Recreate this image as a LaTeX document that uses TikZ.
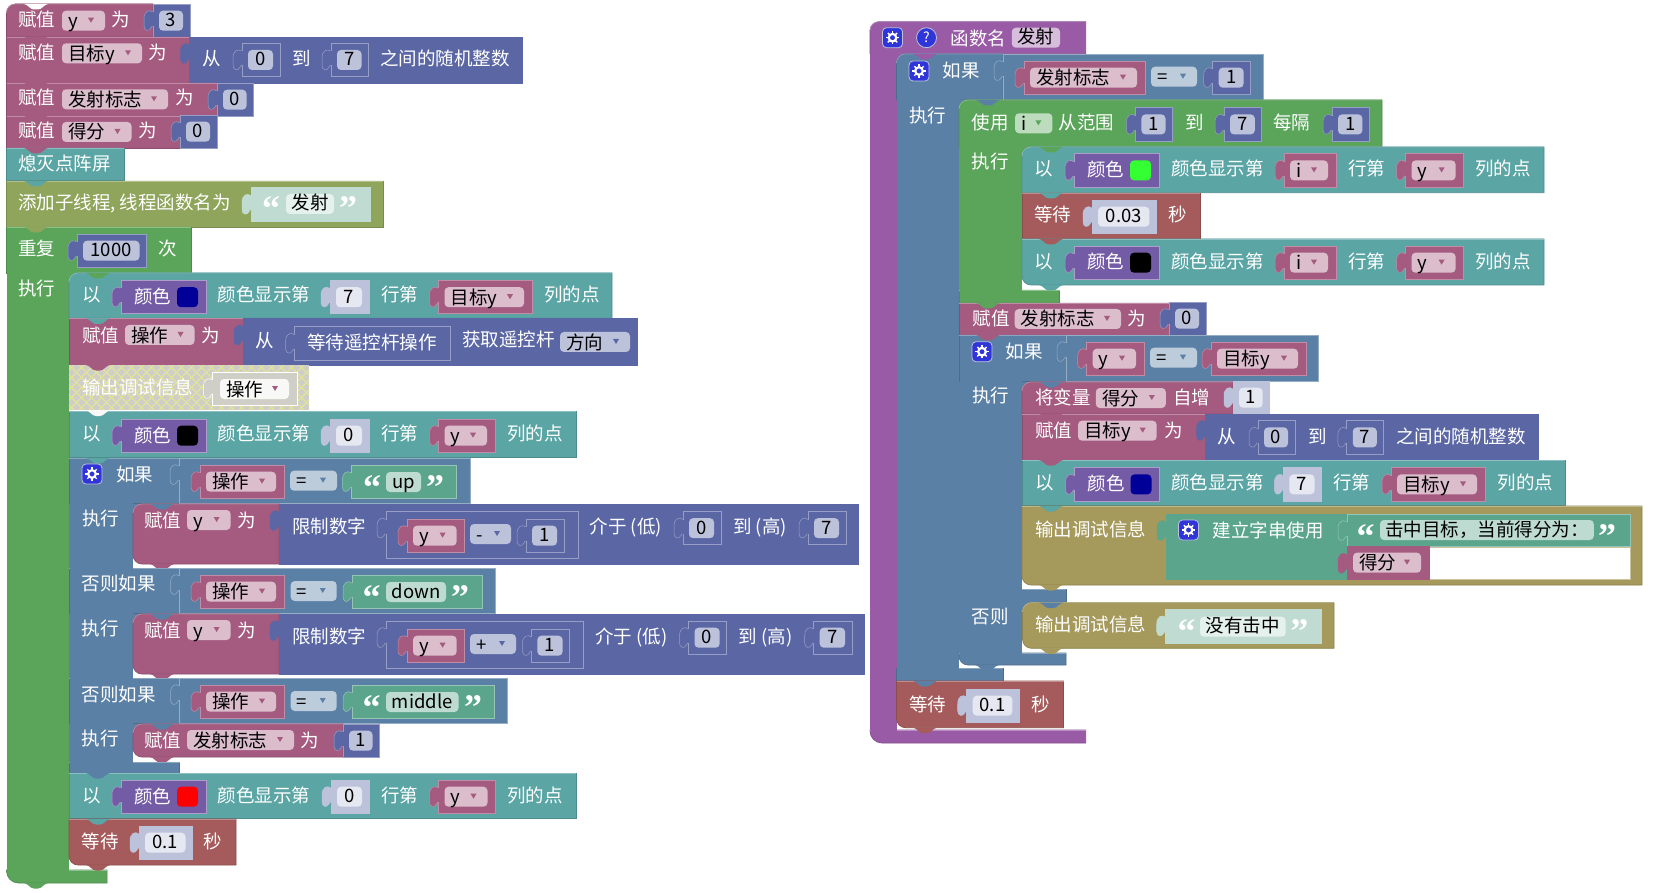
\documentclass[tikz,border=0pt]{standalone}
\usepackage{fontspec}
\setmainfont{Noto Sans CJK SC}
\newfontfamily\quotefont{Liberation Serif}
\definecolor{varc}{HTML}{A55B80}
\definecolor{varf}{HTML}{DBBDCC}
\definecolor{mathc}{HTML}{5B67A5}
\definecolor{mathf}{HTML}{BDC2DB}
\definecolor{numf}{HTML}{E5E7F1}
\definecolor{ledc}{HTML}{5BA5A5}
\definecolor{olivec}{HTML}{8FA55B}
\definecolor{loopc}{HTML}{5BA55B}
\definecolor{loopf}{HTML}{BDDBBD}
\definecolor{logicc}{HTML}{5B80A5}
\definecolor{logicf}{HTML}{BDCCDB}
\definecolor{strc}{HTML}{5BA58C}
\definecolor{strf}{HTML}{BDDBD1}
\definecolor{strs}{HTML}{C0DBD2}
\definecolor{strsf}{HTML}{E5F1ED}
\definecolor{procc}{HTML}{995BA5}
\definecolor{procf}{HTML}{D6BDDB}
\definecolor{waitc}{HTML}{A55B5B}
\definecolor{goldc}{HTML}{A5995B}
\definecolor{colc}{HTML}{745BA5}
\definecolor{offc}{HTML}{CFCFC8}
\definecolor{hatchc}{HTML}{E8E88F}
\definecolor{iconc}{HTML}{2F35D8}
\definecolor{navyc}{HTML}{000099}
\tikzset{
  lbl/.style={anchor=west,inner sep=0pt,text=white,text height=14pt,text depth=0pt,font=\fontsize{18.5}{20}\selectfont},
  ftxt/.style={lbl,text=black},
  ctxt/.style={ftxt,anchor=center},
  qmark/.style={inner sep=0pt,text=white,text height=14pt,text depth=0pt,font=\quotefont\bfseries\fontsize{36}{36}\selectfont}
}
\newcounter{nid}
% col, x1, y1, x2, y2, top left radius, bottom left radius
\newcommand{\blockrnd}[7]{
  \path[fill=#1,draw=#1!85!black,line width=.7pt] ({#4},{#3}) -- ({#2+#6},{#3}) .. controls ({#2+.45*#6},{#3}) and ({#2},{#3+.45*#6}) .. ({#2},{#3+#6})
    -- ({#2},{#5-#7}) .. controls ({#2},{#5-.45*#7}) and ({#2+.45*#7},{#5}) .. ({#2+#7},{#5}) -- ({#4},{#5}) -- cycle;
  \draw[#1!70!white,line width=.7pt] ({#4},{#3}) -- ({#2+#6},{#3}) .. controls ({#2+.45*#6},{#3}) and ({#2},{#3+.45*#6}) .. ({#2},{#3+#6});
}
\newcommand{\blockrow}[5]{\blockrnd{#1}{#2}{#3}{#4}{#5}{0}{0}}
% the arm of a C block, with a bit more at the top behind the child's corner
\newcommand{\armfill}[5]{
  \fill[#1] ({#2},{#3}) rectangle ({#4},{#5});
  \fill[#1] ({#4-1},{#3}) rectangle ({#4+10},{#3+10});
}
% hides the row edges that run across an arm
\newcommand{\seamfill}[4]{
  \foreach \y in {#4} \fill[#1] ({#2+.5},{\y-1.5}) rectangle ({#3},{\y+1.5});
}
\newcommand{\notchbump}[3]{
  \fill[#1] ({#2-12},{#3}) .. controls ({#2-8},{#3+.5}) and ({#2-6},{#3+5.5}) .. ({#2-2},{#3+5.5}) -- ({#2+2},{#3+5.5})
    .. controls ({#2+6},{#3+5.5}) and ({#2+8},{#3+.5}) .. ({#2+12},{#3}) -- cycle;
}
\newcommand{\tabshape}[4]{
  \path[fill=#1,draw=#2,line width=.5pt] ({#3},{#4-9}) .. controls ({#3-4},{#4-12}) and ({#3-9},{#4-10}) .. ({#3-9},{#4-2})
    -- ({#3-9},{#4+5}) .. controls ({#3-9},{#4+10}) and ({#3-4},{#4+11}) .. ({#3-2},{#4+7}) .. controls ({#3-1},{#4+5}) .. ({#3},{#4+5});
}
% col, border, x1, y1, x2, y2
\newcommand{\valbox}[6]{
  \tabshape{#1}{#2}{#3}{#4+17}
  \path[fill=#1,draw=#2,line width=.7pt] ({#3},{#4}) rectangle ({#5},{#6});
  \fill[#1] ({#3-1},{#4+8}) rectangle ({#3+.5},{#4+22});
}
\newcommand{\fieldbox}[5]{
  \fill[#1,rounded corners=4pt] ({#2},{#3}) rectangle ({#4},{#3+20});
  \stepcounter{nid}\node[ctxt] (fld\arabic{nid}) at ({(#2+#4)/2},{#3+9}) {#5};
}
\newcommand{\dropfield}[6]{
  \fill[#1,rounded corners=4pt] ({#3},{#4}) rectangle ({#5},{#4+20});
  \fill[#2] ({#5-17},{#4+7}) -- ({#5-11},{#4+7}) -- ({#5-14},{#4+12}) -- cycle;
  \stepcounter{nid}\node[ftxt] (drp\arabic{nid}) at ({#3+6},{#4+10}) {#6};
}
\newcommand{\textlbl}[3]{\stepcounter{nid}\node[lbl] (lbl\arabic{nid}) at ({#1},{#2}) {#3};}
\newcommand{\quoteit}[3]{\stepcounter{nid}\node[qmark] (qm\arabic{nid}) at ({#1},{#2+10}) {#3};}
% x1 x2 y text
\newcommand{\numv}[4]{\valbox{mathc}{mathf!60!mathc}{#1}{#3}{#2}{#3+33.3}\fieldbox{mathf}{#1+6}{#3+6.7}{#2-7}{#4}}
\newcommand{\shv}[4]{\valbox{mathf}{mathf}{#1}{#3}{#2}{#3+33.3}\fieldbox{numf}{#1+6}{#3+6.7}{#2-7}{#4}}
\newcommand{\redv}[4]{\valbox{varc}{varf!50!varc}{#1}{#3}{#2}{#3+33.3}\dropfield{varf}{varc}{#1+6}{#3+6.7}{#2-8}{#4}}
% x y swatch
\newcommand{\colv}[3]{
  \valbox{colc}{colc!60!white}{#1}{#2}{#1+85}{#2+33.3}
  \textlbl{#1+13}{#2+16}{颜色}
  \fill[#3,rounded corners=4pt] ({#1+56},{#2+6.7}) rectangle ({#1+77},{#2+26.7});
}
\newcommand{\gearicon}[2]{
  \path[fill=iconc,draw=mathf,line width=.8pt,rounded corners=4pt] ({#1},{#2}) rectangle ({#1+20},{#2+20});
  \draw[white,line width=2.2pt] ({#1+10},{#2+10}) circle[radius=3.8pt];
  \foreach \a in {0,45,...,315}
    \draw[white,line width=1.4pt] ({#1+10+4*cos(\a)},{#2+10+4*sin(\a)}) -- ({#1+10+6.6*cos(\a)},{#2+10+6.6*sin(\a)});
}
\begin{document}
\begin{tikzpicture}[x=1pt,y=-1pt]
\useasboundingbox[fill=white] (0,0) rectangle (1655,893);

% setup blocks
\blockrnd{varc}{6.5}{4}{153}{37}{9}{0}
\notchbump{white}{36}{4}
\textlbl{18}{20}{赋值}
\dropfield{varf}{varc}{62}{10.7}{105}{y}
\textlbl{111}{20}{为}
\numv{153}{190}{4}{3}
\blockrow{varc}{6.5}{37}{189.5}{83}
\notchbump{varc}{36}{37}
\textlbl{18}{53}{赋值}
\dropfield{varf}{varc}{62}{43.3}{142}{目标y}
\textlbl{148}{53}{为}
\valbox{mathc}{mathc}{189.5}{37}{522}{83}
\textlbl{202}{59}{从}
\numv{242}{280}{43.3}{0}
\textlbl{292}{59}{到}
\numv{331}{368.5}{43.3}{7}
\textlbl{380}{59}{之间的随机整数}
\blockrow{varc}{6.5}{83}{217}{116}
\notchbump{varc}{36}{83}
\textlbl{18}{98}{赋值}
\dropfield{varf}{varc}{62}{89.3}{168}{发射标志}
\textlbl{175}{98}{为}
\numv{217}{253.5}{83}{0}
\blockrow{varc}{6.5}{116}{180}{148}
\notchbump{varc}{36}{116}
\textlbl{18}{131}{赋值}
\dropfield{varf}{varc}{62}{122}{131.5}{得分}
\textlbl{138}{131}{为}
\numv{180}{217}{115}{0}
\blockrow{ledc}{6.5}{148}{124}{180}
\notchbump{varc}{36}{148}
\textlbl{18}{164}{熄灭点阵屏}
\blockrow{olivec}{6.5}{181}{383}{227}
\notchbump{ledc}{36}{181}
\textlbl{18}{203}{添加子线程, 线程函数名为}
\valbox{strs}{strs}{251}{187.7}{370}{221}
\quoteit{271}{204}{“}
\fieldbox{strsf}{286}{194}{334}{发射}
\quoteit{348}{204}{”}

% repeat block
\blockrow{loopc}{6.5}{227}{191}{273}
\notchbump{olivec}{36}{227}
\textlbl{18}{249}{重复}
\numv{77}{146.5}{234}{1000}
\textlbl{158}{249}{次}
\blockrnd{loopc}{6.5}{870}{107}{883}{0}{12}
\armfill{loopc}{6.5}{273}{69}{870}
\seamfill{loopc}{6.5}{69}{273,870}
\textlbl{18}{289}{执行}
\notchbump{loopc}{36}{883}

\blockrnd{ledc}{69}{273}{612}{318.3}{9}{0}
\notchbump{loopc}{98}{273}
\textlbl{82}{295}{以}
\colv{121}{280.5}{navyc}
\textlbl{217.6}{295}{颜色显示第}
\shv{330}{369}{280.5}{7}
\textlbl{381}{295}{行第}
\redv{438.5}{532}{280.5}{目标y}
\textlbl{544}{295}{列的点}

\blockrow{varc}{69}{318.5}{243}{365}
\notchbump{ledc}{98}{318.5}
\textlbl{82}{335}{赋值}
\dropfield{varf}{varc}{125}{325}{194.5}{操作}
\textlbl{201}{335}{为}
\valbox{mathc}{mathc}{243}{318.5}{637}{365}
\textlbl{255.5}{341}{从}
\valbox{mathc}{mathf!60!mathc}{294.6}{326.7}{450}{360}
\textlbl{307}{342}{等待遥控杆操作}
\textlbl{462}{340}{获取遥控杆}
\dropfield{mathf}{mathc}{560}{332}{630}{方向}

% the switched-off block
\begin{scope}
\clip (69,365) rectangle (309,410);
\fill[offc] (69,365) rectangle (309,410);
\foreach \k in {-40,-30,...,300} {
  \draw[hatchc,line width=1pt] ({69+\k},365) -- ({114+\k},410);
  \draw[hatchc,line width=1pt] ({69+\k},410) -- ({114+\k},365);
}
\end{scope}
\notchbump{varc}{98}{365}
\textlbl{82}{388}{输出调试信息}
\valbox{offc}{white}{212.5}{372}{297}{405}
\dropfield{white!85!offc}{varc}{220}{379}{289}{操作}

\blockrow{ledc}{69}{411}{576}{457.7}
\notchbump{white!85!offc}{98}{410.5}
\textlbl{82}{433}{以}
\colv{121}{419}{black}
\textlbl{217.6}{433}{颜色显示第}
\shv{330}{369}{419}{0}
\textlbl{381}{433}{行第}
\redv{438.5}{495}{419}{y}
\textlbl{507}{433}{列的点}

% if / else if
\armfill{logicc}{69}{503}{133}{568}
\blockrow{logicc}{69}{458}{179}{503}
\notchbump{ledc}{98}{458}
\gearicon{82}{464}
\textlbl{116}{474}{如果}
\valbox{logicc}{logicf!60!logicc}{179}{458}{470}{503}
\redv{200}{284}{465}{操作}
\dropfield{logicf}{logicc}{290}{470.7}{337}{=}
\valbox{strc}{strf!60!strc}{351.4}{465}{456.6}{498.3}
\quoteit{372}{482}{“}
\fieldbox{strf}{386}{472}{421}{up}
\quoteit{435}{482}{”}

\blockrnd{varc}{133}{504}{279}{564}{9}{9}
\notchbump{logicc}{162}{504}
\textlbl{144}{520}{赋值}
\dropfield{varf}{varc}{187}{510}{230.6}{y}
\textlbl{237}{520}{为}
\valbox{mathc}{mathc}{279}{504}{858.5}{564}
\textlbl{292}{526}{限制数字}
\valbox{mathc}{mathf!60!mathc}{386}{511.5}{578}{558}
\redv{407}{464.6}{519}{y}
\dropfield{mathf}{mathc}{470}{524}{511}{-}
\numv{526}{564}{519}{1}
\textlbl{589.4}{526}{介于 (低)}
\numv{683}{721}{511.5}{0}
\textlbl{733}{526}{到 (高)}
\numv{808}{846}{511.5}{7}
\notchbump{varc}{162}{564}

\armfill{logicc}{69}{613.7}{133}{678}
\blockrow{logicc}{69}{568}{179.5}{613.7}
\valbox{logicc}{logicf!60!logicc}{179.5}{568}{495.5}{613.7}
\redv{200}{284}{575}{操作}
\dropfield{logicf}{logicc}{290.7}{581}{336.7}{=}
\valbox{strc}{strf!60!strc}{352}{575}{482.6}{608.3}
\quoteit{371.5}{592}{“}
\fieldbox{strf}{386}{582}{446}{down}
\quoteit{460}{592}{”}

\blockrnd{varc}{133}{614}{279}{674}{9}{9}
\notchbump{logicc}{162}{614}
\textlbl{144}{630}{赋值}
\dropfield{varf}{varc}{187}{620}{230.6}{y}
\textlbl{237}{630}{为}
\valbox{mathc}{mathc}{279}{614}{864}{674}
\textlbl{292}{636}{限制数字}
\valbox{mathc}{mathf!60!mathc}{386}{621}{583.6}{668}
\redv{407}{464.6}{629}{y}
\dropfield{mathf}{mathc}{470}{634}{516}{+}
\numv{531.4}{569.6}{629}{1}
\textlbl{595}{636}{介于 (低)}
\numv{688.5}{726.7}{621}{0}
\textlbl{738.5}{636}{到 (高)}
\numv{813.7}{852}{621}{7}
\notchbump{varc}{162}{674}

\armfill{logicc}{69}{723.7}{133}{762}
\blockrow{logicc}{69}{678}{179.5}{723.7}
\valbox{logicc}{logicf!60!logicc}{179.5}{678}{507}{723.7}
\redv{200}{284}{685}{操作}
\dropfield{logicf}{logicc}{290.7}{691}{336.7}{=}
\valbox{strc}{strf!60!strc}{352}{685}{494}{718.3}
\quoteit{371.5}{702}{“}
\fieldbox{strf}{386}{692}{458.5}{middle}
\quoteit{473}{702}{”}

\blockrnd{varc}{133}{724}{343}{757}{9}{9}
\notchbump{logicc}{162}{724}
\textlbl{144}{740}{赋值}
\dropfield{varf}{varc}{187}{730}{294}{发射标志}
\textlbl{300}{740}{为}
\numv{343}{379.5}{724}{1}
\notchbump{varc}{162}{757}
\blockrow{logicc}{69}{762}{179.5}{773}
\seamfill{logicc}{69}{133}{503,568,613.7,678,723.7,762}
\textlbl{82}{518}{执行}
\textlbl{81.5}{583}{否则如果}
\textlbl{81.5}{628}{执行}
\textlbl{81.5}{694}{否则如果}
\textlbl{81.5}{738}{执行}

\blockrow{ledc}{69}{773}{576}{818.3}
\notchbump{logicc}{98}{773}
\textlbl{82}{795}{以}
\colv{121}{780}{red}
\textlbl{217.6}{795}{颜色显示第}
\shv{331}{369}{780}{0}
\textlbl{381}{795}{行第}
\redv{438.5}{495.5}{780}{y}
\textlbl{507}{795}{列的点}

\blockrnd{waitc}{69}{819}{236}{865}{0}{9}
\notchbump{ledc}{98}{819}
\textlbl{81.5}{841}{等待}
\shv{139}{192.5}{826}{0.1}
\textlbl{203}{841}{秒}
\notchbump{waitc}{98}{865}

% function block
\blockrnd{procc}{870}{21.7}{1085.7}{53.7}{9}{0}
\blockrnd{procc}{870}{730}{1085.7}{743}{0}{12}
\armfill{procc}{870}{53.7}{896.5}{730}
\seamfill{procc}{870}{896.5}{53.7,730}
\gearicon{882.5}{27.7}
\path[fill=iconc,draw=mathf,line width=.8pt] (926.5,37.7) circle[radius=10pt];
\stepcounter{nid}\node[lbl,anchor=center,font=\fontsize{14}{14}\selectfont,text height=10pt] (help) at (926.5,37.7) {?};
\textlbl{950.6}{38.7}{函数名}
\fieldbox{procf}{1011.8}{27.7}{1060}{发射}

\blockrow{logicc}{896.5}{668}{1003}{681}
\blockrnd{logicc}{896.5}{54}{1003}{100}{9}{0}
\armfill{logicc}{896.5}{100}{959}{668}
\seamfill{logicc}{896.5}{959}{100,668}
\notchbump{procc}{925}{54}
\gearicon{909}{61}
\textlbl{942.6}{71}{如果}
\valbox{logicc}{logicf!60!logicc}{1003}{54}{1263}{100}
\redv{1024}{1145}{61}{发射标志}
\dropfield{logicf}{logicc}{1151}{66.7}{1197}{=}
\numv{1212.7}{1250.6}{61}{1}
\textlbl{909}{116}{执行}

\blockrow{loopc}{959}{290}{1059.5}{303}
\blockrnd{loopc}{959}{100}{1382}{146.7}{9}{0}
\armfill{loopc}{959}{146.7}{1022}{290}
\seamfill{loopc}{959}{1022}{146.7,290}
\notchbump{logicc}{988}{100}
\textlbl{971.6}{122.7}{使用}
\dropfield{loopf}{loopc}{1015}{113.3}{1052.4}{i}
\textlbl{1058.7}{122.7}{从范围}
\numv{1135.4}{1172.5}{107.7}{1}
\textlbl{1185}{122.7}{到}
\numv{1224}{1261.8}{107.7}{7}
\textlbl{1273}{122.7}{每隔}
\numv{1332}{1369.4}{107.7}{1}
\textlbl{971.6}{162}{执行}

\blockrnd{ledc}{1022}{147}{1544}{192.7}{9}{0}
\notchbump{loopc}{1051}{147}
\textlbl{1034}{169}{以}
\colv{1074}{153.7}{green!80!white}
\textlbl{1171}{169}{颜色显示第}
\redv{1284}{1336}{153.7}{i}
\textlbl{1348}{169}{行第}
\redv{1405.5}{1463.6}{153.7}{y}
\textlbl{1475}{169}{列的点}

\blockrow{waitc}{1022}{193}{1200}{239}
\notchbump{ledc}{1051}{193}
\textlbl{1034}{215}{等待}
\shv{1092}{1156.4}{200}{0.03}
\textlbl{1168}{215}{秒}

\blockrnd{ledc}{1022}{239}{1544}{285}{0}{9}
\notchbump{waitc}{1051}{239}
\textlbl{1034}{262}{以}
\colv{1074}{246}{black}
\textlbl{1171}{262}{颜色显示第}
\redv{1284}{1336}{246}{i}
\textlbl{1348}{262}{行第}
\redv{1405.5}{1463.6}{246}{y}
\textlbl{1475}{262}{列的点}
\notchbump{ledc}{1051}{285}

\blockrow{varc}{959}{303}{1169}{335}
\notchbump{loopc}{988}{303}
\textlbl{972.6}{319}{赋值}
\dropfield{varf}{varc}{1014.7}{309}{1121}{发射标志}
\textlbl{1127.7}{319}{为}
\numv{1169}{1206}{302}{0}

% inner if
\blockrow{logicc}{959}{335}{1066}{381.7}
\blockrow{logicc}{959}{589}{1066}{603}
\blockrnd{logicc}{959}{653}{1066}{665}{0}{9}
\armfill{logicc}{959}{381.7}{1022}{653}
\fill[logicc] (1021,602) rectangle (1032,613);
\seamfill{logicc}{959}{1022}{381.7,589,603,653}
\notchbump{varc}{988}{335}
\gearicon{972}{341.7}
\textlbl{1005.5}{352}{如果}
\valbox{logicc}{logicf!60!logicc}{1066}{335}{1318.8}{381.7}
\redv{1086.7}{1144}{342}{y}
\dropfield{logicf}{logicc}{1150}{347.7}{1197}{=}
\redv{1211}{1306}{342}{目标y}
\textlbl{972}{395.7}{执行}

\blockrnd{varc}{1022}{382}{1233}{414}{9}{0}
\notchbump{logicc}{1051}{382}
\textlbl{1035}{397}{将变量}
\dropfield{varf}{varc}{1095.8}{388}{1165.8}{得分}
\textlbl{1173}{397}{自增}
\shv{1233}{1269.7}{381}{1}

\blockrow{varc}{1022}{414}{1205.5}{460}
\notchbump{varc}{1051}{414}
\textlbl{1035}{430}{赋值}
\dropfield{varf}{varc}{1078}{420.7}{1156.7}{目标y}
\textlbl{1164}{430}{为}
\valbox{mathc}{mathc}{1205.5}{414}{1538}{460}
\textlbl{1217.5}{436}{从}
\numv{1258}{1295}{420.7}{0}
\textlbl{1307.8}{436}{到}
\numv{1346.8}{1383.8}{420.7}{7}
\textlbl{1396}{436}{之间的随机整数}

\blockrow{ledc}{1022}{460}{1565}{505.7}
\notchbump{varc}{1051}{460}
\textlbl{1035}{482}{以}
\colv{1074.5}{467.7}{navyc}
\textlbl{1171}{482}{颜色显示第}
\shv{1283.4}{1321.5}{467.7}{7}
\textlbl{1333}{482}{行第}
\redv{1391}{1485}{467.7}{目标y}
\textlbl{1497.4}{482}{列的点}

\blockrnd{goldc}{1022}{506}{1642}{585}{0}{9}
\notchbump{ledc}{1051}{506}
\textlbl{1035}{529}{输出调试信息}
\path[fill=white,draw=goldc!60!white] (1347,546.7) rectangle (1630,579.3);
\valbox{strc}{strc}{1166}{514}{1347}{579.3}
\gearicon{1178.5}{520}
\textlbl{1212.4}{530}{建立字串使用}
\valbox{strc}{strf!60!strc}{1347}{514}{1630}{546.7}
\quoteit{1365.6}{531}{“}
\fieldbox{strf}{1380}{520}{1593.8}{击中目标\symbol{"FF0C}当前得分为\symbol{"FF1A}}
\quoteit{1607}{531}{”}
\valbox{varc}{varc}{1347}{546.7}{1429.5}{579}
\dropfield{varf}{varc}{1353}{552.7}{1421}{得分}
\notchbump{goldc}{1051}{585}

\textlbl{971.7}{616}{否则}
\blockrnd{goldc}{1022.5}{602.7}{1334}{648.3}{9}{9}
\notchbump{logicc}{1051}{602.7}
\textlbl{1035}{624.3}{输出调试信息}
\valbox{strs}{strs}{1165.7}{609.3}{1321.7}{643.3}
\quoteit{1186.7}{626}{“}
\fieldbox{strsf}{1200}{616.7}{1285.7}{没有击中}
\quoteit{1299.3}{626}{”}
\notchbump{goldc}{1051}{648.3}
\notchbump{logicc}{987}{665}

\blockrnd{waitc}{896.5}{681}{1063.5}{727.7}{0}{9}
\notchbump{logicc}{925}{681}
\textlbl{909}{704}{等待}
\shv{966.7}{1019.3}{689}{0.1}
\textlbl{1031.7}{704}{秒}
\notchbump{waitc}{925}{727.7}
\end{tikzpicture}
\end{document}
